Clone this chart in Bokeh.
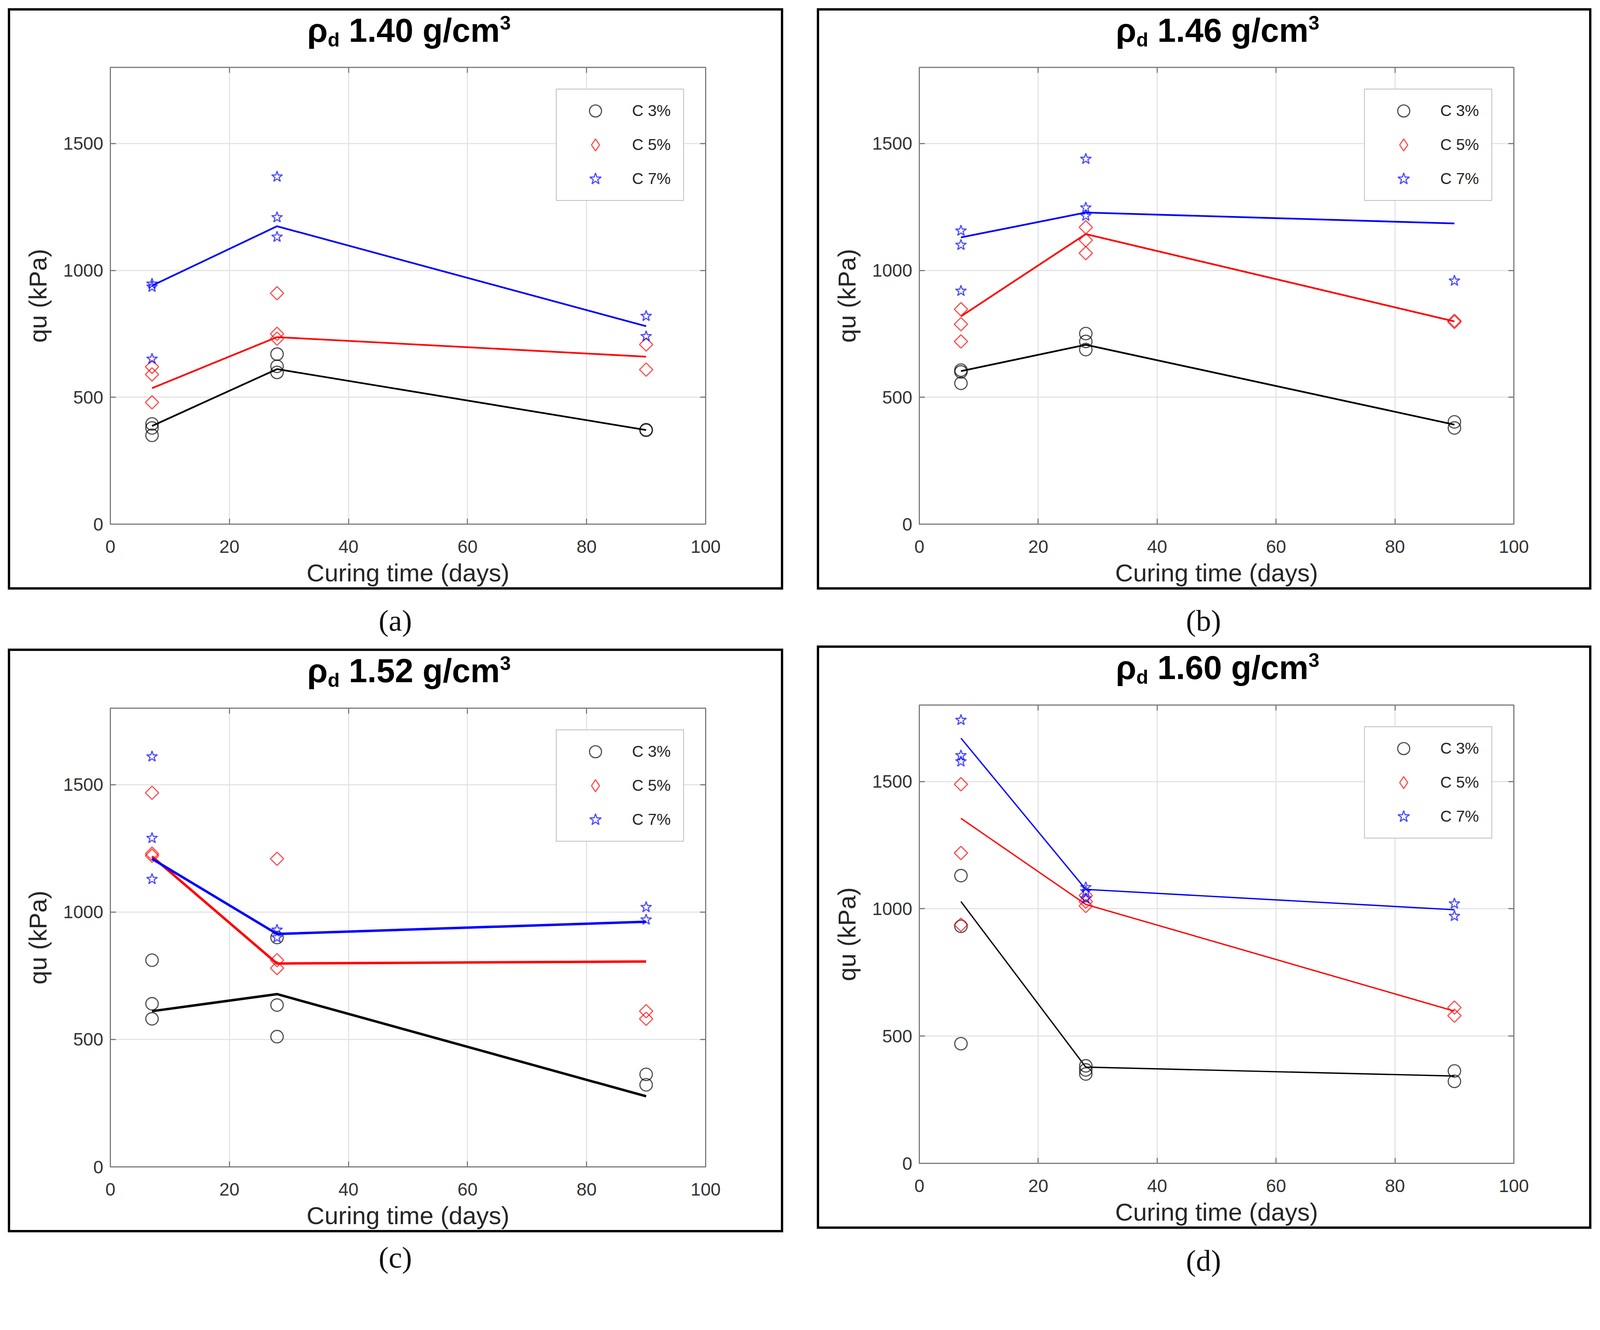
import numpy as np
from bokeh.plotting import figure
from bokeh.models import (Range1d, LinearAxis, Legend, LegendItem, Div,
                          Spacer, FixedTicker)
from bokeh.layouts import column, row
from bokeh.embed import file_html
from bokeh.resources import INLINE

# ---------------- data ----------------
DAYS = [7, 28, 90]
PANEL_DENSITY = ["1.40", "1.46", "1.52", "1.60"]
PANEL_CAPTION = ["(a)", "(b)", "(c)", "(d)"]
SERIES_LABELS = ["C 3%", "C 5%", "C 7%"]
X_TICKS = [0, 20, 40, 60, 80, 100]
Y_TICKS = [0, 500, 1000, 1500]

# panel (a) rho_d 1.40
a_c3_x = [7, 7, 7, 28, 28, 28, 90, 90]
a_c3_y = [395, 379, 350, 670, 622, 598, 372, 370]
a_c5_x = [7, 7, 7, 28, 28, 28, 90, 90]
a_c5_y = [620, 590, 480, 910, 750, 731, 708, 609]
a_c7_x = [7, 7, 7, 28, 28, 28, 90, 90]
a_c7_y = [947, 935, 651, 1369, 1209, 1132, 820, 740]
a_c3_fit = [387, 611, 371]
a_c5_fit = [536, 737, 660]
a_c7_fit = [940, 1174, 780]

# panel (b) rho_d 1.46
b_c3_x = [7, 7, 7, 28, 28, 28, 90, 90]
b_c3_y = [607, 600, 555, 751, 720, 688, 403, 379]
b_c5_x = [7, 7, 7, 28, 28, 28, 90, 90]
b_c5_y = [847, 788, 720, 1170, 1119, 1068, 801, 797]
b_c7_x = [7, 7, 7, 28, 28, 28, 90]
b_c7_y = [1156, 1100, 919, 1439, 1247, 1215, 959]
b_c3_fit = [603, 707, 392]
b_c5_fit = [819, 1143, 799]
b_c7_fit = [1130, 1228, 1185]

# panel (c) rho_d 1.52
c_c3_x = [7, 7, 7, 28, 28, 28, 90, 90]
c_c3_y = [811, 640, 581, 900, 635, 511, 363, 322]
c_c5_x = [7, 7, 7, 28, 28, 28, 90, 90]
c_c5_y = [1468, 1229, 1221, 1209, 811, 780, 611, 581]
c_c7_x = [7, 7, 7, 28, 28, 90, 90]
c_c7_y = [1610, 1290, 1129, 930, 900, 1019, 970]
c_c3_fit = [611, 678, 277]
c_c5_fit = [1218, 798, 806]
c_c7_fit = [1209, 914, 962]

# panel (d) rho_d 1.60
d_c3_x = [7, 7, 7, 28, 28, 28, 90, 90]
d_c3_y = [1130, 931, 470, 383, 367, 351, 363, 322]
d_c5_x = [7, 7, 7, 28, 28, 28, 90, 90]
d_c5_y = [1489, 1219, 937, 1052, 1028, 1011, 612, 580]
d_c7_x = [7, 7, 7, 28, 28, 28, 90, 90]
d_c7_y = [1741, 1602, 1578, 1084, 1068, 1040, 1020, 971]
d_c3_fit = [1028, 378, 343]
d_c5_fit = [1355, 1017, 598]
d_c7_fit = [1670, 1076, 996]

PANELS = [
    ([(a_c3_x, a_c3_y), (a_c5_x, a_c5_y), (a_c7_x, a_c7_y)], [a_c3_fit, a_c5_fit, a_c7_fit]),
    ([(b_c3_x, b_c3_y), (b_c5_x, b_c5_y), (b_c7_x, b_c7_y)], [b_c3_fit, b_c5_fit, b_c7_fit]),
    ([(c_c3_x, c_c3_y), (c_c5_x, c_c5_y), (c_c7_x, c_c7_y)], [c_c3_fit, c_c5_fit, c_c7_fit]),
    ([(d_c3_x, d_c3_y), (d_c5_x, d_c5_y), (d_c7_x, d_c7_y)], [d_c3_fit, d_c5_fit, d_c7_fit]),
]

# ---------------- styling ----------------
Z = 0.9635   # page-to-picture scale compensation


def z(v):
    return int(round(v * Z))


def fs(v):
    return f"{v * Z:.1f}px"


LINE_COLORS = ["#000000", "#ff0000", "#0000ff"]
MARKERS = ["circle", "square", "star"]
LEGEND_MARKERS = ["circle", "diamond", "star"]
MARKER_SIZES = [33, 25, 30]
LEGEND_SIZES = [33, 34, 30]
MARKER_ANGLES = [0, np.pi / 4, 0]
FIT_WIDTHS = [4.5, 4.5, 6.5, 3.5]
FONT = "Liberation Sans"
AX_COLOR = "#7d7d7d"
TXT_COLOR = "#262626"
BORDER = 6
TITLE_H = 101
TITLE_PAD = 4
ML, MR = 266, 190


def style_axis(ax):
    ax.axis_line_color = AX_COLOR
    ax.axis_line_width = 3 * Z
    ax.major_tick_line_color = AX_COLOR
    ax.major_tick_line_width = 3 * Z
    ax.major_tick_in = z(15)
    ax.major_tick_out = 0
    ax.minor_tick_line_color = None


def make_figure(idx, W, H, top, bottom):
    pts, fits = PANELS[idx]
    p = figure(width=z(W), height=z(H), x_range=Range1d(0, 100), y_range=Range1d(0, 1800),
               output_backend="svg", toolbar_location=None,
               min_border_left=z(ML), min_border_right=z(MR),
               min_border_top=z(top), min_border_bottom=z(bottom),
               background_fill_color="white", border_fill_color="white")
    p.outline_line_color = AX_COLOR
    p.outline_line_width = 3 * Z

    for ax in (p.xaxis[0], p.yaxis[0]):
        style_axis(ax)
        ax.major_label_text_font = FONT
        ax.major_label_text_font_size = fs(48)
        ax.major_label_text_color = "#333333"
        ax.axis_label_text_font = FONT
        ax.axis_label_text_font_size = fs(66)
        ax.axis_label_text_font_style = "normal"
        ax.axis_label_text_color = TXT_COLOR
    p.xaxis[0].ticker = FixedTicker(ticks=X_TICKS)
    p.yaxis[0].ticker = FixedTicker(ticks=Y_TICKS)
    p.xaxis[0].axis_label = "Curing time (days)"
    p.yaxis[0].axis_label = "qu (kPa)"
    p.xaxis[0].major_label_standoff = z(43)
    p.xaxis[0].axis_label_standoff = z(12)
    p.yaxis[0].major_label_standoff = z(19)
    p.yaxis[0].axis_label_standoff = z(28)

    # box ticks on top / right
    for loc, ticks in (("above", X_TICKS), ("right", Y_TICKS)):
        ax = LinearAxis(ticker=FixedTicker(ticks=ticks))
        style_axis(ax)
        ax.major_label_text_font_size = "0px"
        ax.major_label_text_alpha = 0
        ax.major_label_standoff = 0
        p.add_layout(ax, loc)

    for g in (p.xgrid[0], p.ygrid[0]):
        g.grid_line_color = "#e4e4e4"
        g.grid_line_width = 3 * Z
    p.xgrid[0].ticker = FixedTicker(ticks=X_TICKS)
    p.ygrid[0].ticker = FixedTicker(ticks=Y_TICKS)

    legend_renderers = []
    for k in range(3):
        xs, ys = pts[k]
        p.line(DAYS, fits[k], line_color=LINE_COLORS[k], line_width=FIT_WIDTHS[idx] * Z)
        r = p.scatter(xs, ys, marker=MARKERS[k], size=MARKER_SIZES[k] * Z, angle=MARKER_ANGLES[k],
                      fill_color=None, line_color=LINE_COLORS[k], line_alpha=0.7, line_width=3 * Z)
        if MARKERS[k] == LEGEND_MARKERS[k]:
            legend_renderers.append(r)
        else:
            # hidden twin glyph so that the key shows an upright diamond
            lr = p.scatter(xs, ys, marker=LEGEND_MARKERS[k], size=LEGEND_SIZES[k] * Z,
                           fill_color=None, line_color=LINE_COLORS[k], line_alpha=0.7,
                           line_width=3 * Z, visible=False)
            legend_renderers.append(lr)

    legend = Legend(items=[LegendItem(label=SERIES_LABELS[k], renderers=[legend_renderers[k]])
                           for k in range(3)],
                    location="top_right", margin=z(57), padding=z(17), spacing=z(10),
                    glyph_width=z(172), glyph_height=z(80), label_height=z(80), label_width=z(119),
                    label_standoff=z(11), label_text_font=FONT, label_text_font_size=fs(42),
                    label_text_color=TXT_COLOR, border_line_color=AX_COLOR,
                    border_line_width=3 * Z, background_fill_color="white", background_fill_alpha=1)
    p.add_layout(legend)
    return p


def title_div(idx, W):
    html = (f'<div style="width:{z(W)}px;height:{z(TITLE_H)}px;box-sizing:border-box;'
            f'padding-left:{z(72)}px;padding-top:{z(TITLE_PAD)}px;text-align:center;'
            f'font-family:\'Liberation Sans\';font-weight:bold;font-size:{fs(88)};'
            f'line-height:{fs(88)};color:#000;white-space:nowrap">'
            f'ρ<span style="font-size:{fs(52)};position:relative;top:{z(12)}px">d</span>'
            f' {PANEL_DENSITY[idx]} g/cm'
            f'<span style="font-size:{fs(52)};position:relative;top:{-z(32)}px">3</span></div>')
    return Div(text=html, width=z(W), height=z(TITLE_H))


def panel(idx, W, H, top, bottom):
    fig = make_figure(idx, W, H - TITLE_H, top - TITLE_H, bottom)
    return column(title_div(idx, W), fig, spacing=0,
                  styles={"border": f"{z(BORDER)}px solid black", "background": "white"})


def caption(txt, w, h, pad):
    html = (f'<div style="width:{z(w)}px;text-align:center;font-family:\'Liberation Serif\';'
            f'font-size:{fs(80)};line-height:{fs(80)};padding-top:{z(pad)}px;color:#111111">{txt}</div>')
    return Div(text=html, width=z(w), height=z(h))


pa = panel(0, 2037, 1522, 140, 160)
pb = panel(1, 2035, 1522, 140, 160)
pc = panel(2, 2037, 1528, 141, 163)
pd_ = panel(3, 2035, 1527, 141, 163)

layout = column(
    Spacer(height=z(22)),
    row(Spacer(width=z(21)), pa, Spacer(width=z(89)), pb),
    row(Spacer(width=z(21)), caption(PANEL_CAPTION[0], 2049, 138, 37), Spacer(width=z(89)),
        caption(PANEL_CAPTION[1], 2047, 138, 37)),
    row(Spacer(width=z(21)), column(Spacer(height=z(8)), pc), Spacer(width=z(89)), pd_),
    row(Spacer(width=z(21)), caption(PANEL_CAPTION[2], 2049, 110, 22), Spacer(width=z(89)),
        caption(PANEL_CAPTION[3], 2047, 110, 30)),
)

open("out.html", "w").write(file_html(layout, INLINE))
